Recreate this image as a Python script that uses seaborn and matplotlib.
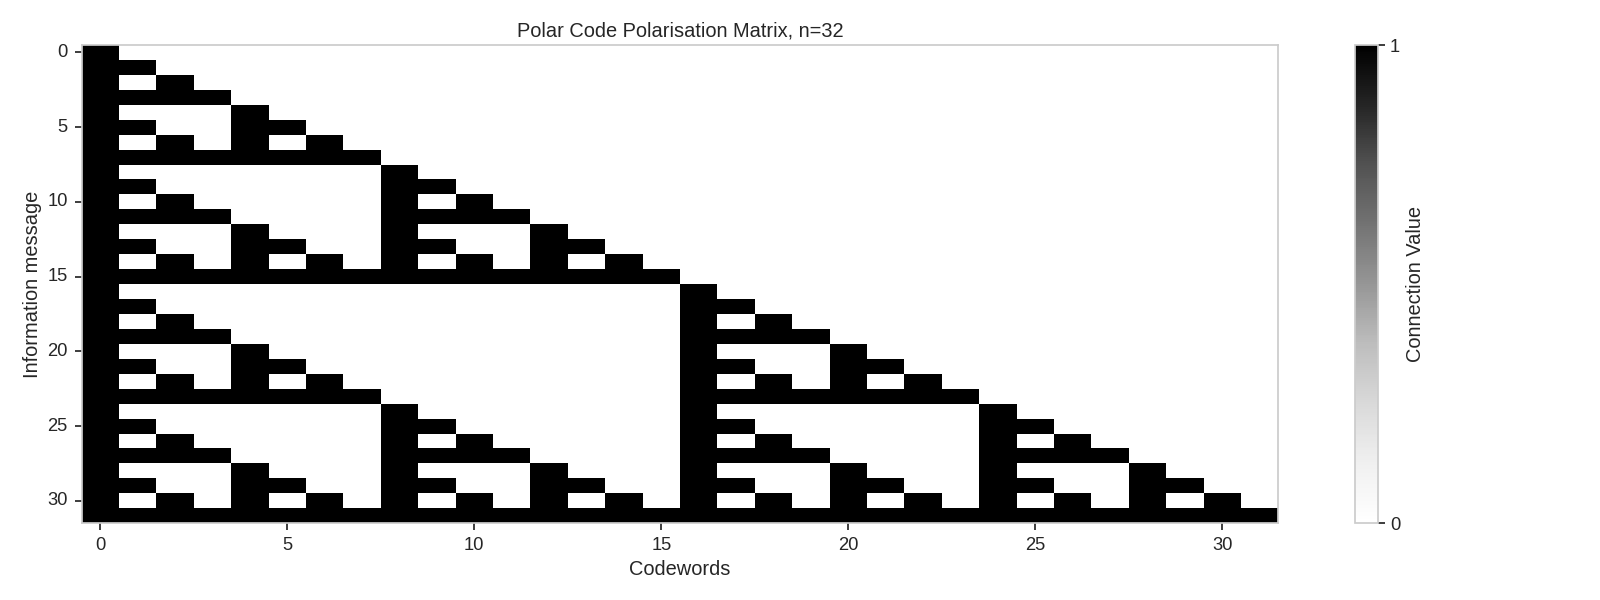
import numpy as np
import pandas as pd
import seaborn as sns
import matplotlib.pyplot as plt

# Polarisation matrix rows (row = information bit, col = codeword bit)
rows = [
    "10000000000000000000000000000000",
    "11000000000000000000000000000000",
    "10100000000000000000000000000000",
    "11110000000000000000000000000000",
    "10001000000000000000000000000000",
    "11001100000000000000000000000000",
    "10101010000000000000000000000000",
    "11111111000000000000000000000000",
    "10000000100000000000000000000000",
    "11000000110000000000000000000000",
    "10100000101000000000000000000000",
    "11110000111100000000000000000000",
    "10001000100010000000000000000000",
    "11001100110011000000000000000000",
    "10101010101010100000000000000000",
    "11111111111111110000000000000000",
    "10000000000000001000000000000000",
    "11000000000000001100000000000000",
    "10100000000000001010000000000000",
    "11110000000000001111000000000000",
    "10001000000000001000100000000000",
    "11001100000000001100110000000000",
    "10101010000000001010101000000000",
    "11111111000000001111111100000000",
    "10000000100000001000000010000000",
    "11000000110000001100000011000000",
    "10100000101000001010000010100000",
    "11110000111100001111000011110000",
    "10001000100010001000100010001000",
    "11001100110011001100110011001100",
    "10101010101010101010101010101010",
    "11111111111111111111111111111111",
]
tick_values = [0, 5, 10, 15, 20, 25, 30]

matrix = pd.DataFrame([[int(c) for c in r] for r in rows])

sns.set_theme(style="whitegrid")
plt.rcParams['font.family'] = ['Liberation Sans', 'DejaVu Sans']

fig = plt.figure(figsize=(16, 6), dpi=100)
ax = fig.add_axes([0.051, 0.128, 0.748, 0.797])
cax = fig.add_axes([0.847, 0.128, 0.0144, 0.797])

sns.heatmap(matrix, ax=ax, cbar_ax=cax, cmap="Greys", vmin=0, vmax=1,
            cbar_kws={'ticks': [0, 1], 'label': 'Connection Value'})

ax.set_xticks([t + 0.5 for t in tick_values])
ax.set_xticklabels(tick_values, rotation=0)
ax.set_yticks([t + 0.5 for t in tick_values])
ax.set_yticklabels(tick_values, rotation=0)
ax.tick_params(axis='both', which='major', length=5, width=1.25, color='.15',
               labelsize=13.2, bottom=True, left=True, pad=5)
for side in ['left', 'right', 'top', 'bottom']:
    ax.spines[side].set_visible(True)
    ax.spines[side].set_color('.8')
    ax.spines[side].set_linewidth(1.25)
ax.grid(False)

ax.set_title('Polar Code Polarisation Matrix, n=32', fontsize=14.4)
ax.set_xlabel('Codewords', fontsize=14.4)
ax.set_ylabel('Information message', fontsize=14.4)

cax.tick_params(length=5, width=1.25, color='.15', labelsize=13.2, pad=3.5)
cax.yaxis.label.set_size(14.4)
cbar = ax.collections[0].colorbar
cbar.outline.set_visible(True)
cbar.outline.set_edgecolor('.8')
cbar.outline.set_linewidth(1.25)

plt.savefig('out.png', dpi=100)
plt.close()
